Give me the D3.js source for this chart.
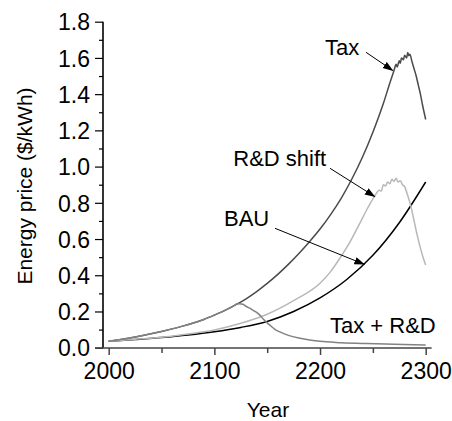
<!DOCTYPE html>
<html>
<head>
<meta charset="utf-8">
<script src="https://cdn.jsdelivr.net/npm/d3@7"></script>
<style>
  body { margin: 0; background: #fff; }
  svg { display: block; font-family: Arial, "Liberation Sans", sans-serif; }
</style>
</head>
<body>
<div class="container"></div>
<script>
// values: [year, price in $/kWh]
const taxSeries = [
  [2000, 0.035], [2010, 0.044], [2020, 0.054], [2030, 0.065], [2040, 0.077],
  [2050, 0.09], [2060, 0.104], [2070, 0.119], [2080, 0.136], [2090, 0.156],
  [2100, 0.18], [2110, 0.206], [2120, 0.236], [2130, 0.27], [2140, 0.31],
  [2150, 0.355], [2160, 0.405], [2170, 0.46], [2180, 0.52], [2190, 0.585],
  [2200, 0.655], [2210, 0.735], [2220, 0.825], [2230, 0.93], [2240, 1.05],
  [2250, 1.19], [2260, 1.35], [2266, 1.46], [2270, 1.53], [2272, 1.565],
  [2273, 1.55], [2275, 1.585], [2276, 1.57], [2277, 1.6], [2279, 1.59],
  [2280, 1.615], [2282, 1.6], [2283, 1.63], [2284, 1.612], [2285, 1.62],
  [2287, 1.58], [2289, 1.54], [2291, 1.5], [2293, 1.45], [2295, 1.4],
  [2297, 1.34], [2300, 1.26]
];
const bauSeries = [
  [2000, 0.035], [2025, 0.045], [2050, 0.056], [2075, 0.07], [2100, 0.088],
  [2125, 0.112], [2150, 0.145], [2175, 0.2], [2200, 0.275], [2225, 0.375],
  [2250, 0.51], [2275, 0.69], [2300, 0.915]
];
const rdShiftSeries = [
  [2000, 0.035], [2025, 0.046], [2050, 0.058], [2075, 0.076], [2100, 0.098],
  [2125, 0.135], [2150, 0.185], [2175, 0.26], [2200, 0.356], [2210, 0.42],
  [2220, 0.505], [2228, 0.58], [2237, 0.68], [2245, 0.77], [2252, 0.84],
  [2256, 0.87], [2258, 0.865], [2260, 0.9], [2262, 0.893], [2264, 0.915],
  [2266, 0.905], [2268, 0.93], [2270, 0.918], [2272, 0.935], [2274, 0.915],
  [2276, 0.922], [2278, 0.9], [2280, 0.89], [2283, 0.84], [2286, 0.78],
  [2289, 0.7], [2292, 0.62], [2295, 0.55], [2298, 0.49], [2300, 0.457]
];
const taxRdSeries = [
  [2000, 0.035], [2010, 0.044], [2020, 0.054], [2030, 0.065], [2040, 0.077],
  [2050, 0.09], [2060, 0.104], [2070, 0.119], [2080, 0.136], [2090, 0.156],
  [2100, 0.18], [2110, 0.206], [2118, 0.23], [2121, 0.241], [2124, 0.243],
  [2127, 0.24], [2130, 0.228], [2133, 0.22], [2137, 0.205], [2140, 0.195],
  [2143, 0.18], [2146, 0.16], [2150, 0.137], [2153, 0.122], [2157, 0.103],
  [2162, 0.087], [2170, 0.068], [2180, 0.053], [2190, 0.043], [2200, 0.035],
  [2220, 0.028], [2244, 0.023], [2270, 0.019], [2300, 0.015]
];

const yTicks = [0, 0.2, 0.4, 0.6, 0.8, 1.0, 1.2, 1.4, 1.6, 1.8];
const yMinorTicks = [0.1, 0.3, 0.5, 0.7, 0.9, 1.1, 1.3, 1.5, 1.7];
const xTicks = [2000, 2100, 2200, 2300];
const xMinorTicks = [2050, 2150, 2250];

// label text and where the arrow points (year, value)
const labels = [
  { text: "Tax", at: [2269, 1.53] },
  { text: "R&D shift", at: [2252, 0.834] },
  { text: "BAU", at: [2242, 0.46] },
  { text: "Tax + R&D", at: null }
];

const width = 452;
const height = 421;
const fontSize = 22;
const tickFontSize = 23;

const svg = d3.select(".container")
  .append("svg")
  .attr("width", width)
  .attr("height", height);

svg.append("rect").attr("width", width).attr("height", height).attr("fill", "#fff");

const xScale = d3.scaleLinear().domain([2000, 2300]).range([108.7, 425.7]);
const yScale = d3.scaleLinear().domain([0, 1.8]).range([347.7, 21.7]);

const axisX = 103;
const axisY = 348;

// arrow head
svg.append("defs")
  .append("marker")
  .attr("id", "arrow")
  .attr("markerUnits", "userSpaceOnUse")
  .attr("markerWidth", 11)
  .attr("markerHeight", 8)
  .attr("refX", 10)
  .attr("refY", 3.75)
  .attr("orient", "auto")
  .append("path")
  .attr("d", "M0,0 L10.5,3.75 L0,7.5 z")
  .attr("fill", "#000");

/* lines */
const line = d3.line()
  .curve(d3.curveMonotoneX)
  .x(d => xScale(d[0]))
  .y(d => yScale(d[1]));

const seriesList = [
  { data: taxSeries, color: "#4a4a4a" },
  { data: bauSeries, color: "#000" },
  { data: rdShiftSeries, color: "#b8b8b8" },
  { data: taxRdSeries, color: "#828282" }
];

svg.append("g")
  .selectAll("path")
  .data(seriesList)
  .join("path")
  .attr("d", d => line(d.data))
  .attr("fill", "none")
  .attr("stroke", d => d.color)
  .attr("stroke-width", 1.5)
  .attr("stroke-linejoin", "round");

/* Y axis */
const yAxis = svg.append("g")
  .attr("transform", `translate(${axisX},0)`)
  .call(d3.axisLeft(yScale).tickValues(yTicks).tickSize(8).tickPadding(5)
    .tickFormat(d3.format(".1f")));
yAxis.attr("font-family", null).attr("font-size", tickFontSize);
yAxis.select(".domain").remove();
yAxis.selectAll("text").attr("dy", "0.36em");
yAxis.selectAll("line").attr("stroke-width", 1.2);

const yMinor = svg.append("g")
  .attr("transform", `translate(${axisX},0)`)
  .call(d3.axisLeft(yScale).tickValues(yMinorTicks).tickSize(4).tickFormat(""));
yMinor.select(".domain").remove();
yMinor.selectAll("line").attr("stroke-width", 1.2);

/* X axis */
const xAxis = svg.append("g")
  .attr("transform", `translate(0,${axisY})`)
  .call(d3.axisBottom(xScale).tickValues(xTicks).tickSize(7).tickPadding(8)
    .tickFormat(d3.format("d")));
xAxis.attr("font-family", null).attr("font-size", tickFontSize);
xAxis.select(".domain").remove();
xAxis.selectAll("line").attr("stroke", "#444").attr("stroke-width", 1.5);

const xMinor = svg.append("g")
  .attr("transform", `translate(0,${axisY})`)
  .call(d3.axisBottom(xScale).tickValues(xMinorTicks).tickSize(5).tickFormat(""));
xMinor.select(".domain").remove();
xMinor.selectAll("line").attr("stroke", "#444").attr("stroke-width", 1.5);

// axis lines
svg.append("line")
  .attr("x1", axisX).attr("x2", axisX)
  .attr("y1", yScale(1.8)).attr("y2", axisY)
  .attr("stroke", "#000").attr("stroke-width", 1.6);
svg.append("line")
  .attr("x1", axisX - 8).attr("x2", xScale(2305.6))
  .attr("y1", axisY).attr("y2", axisY)
  .attr("stroke", "#444").attr("stroke-width", 1.6);

/* axis titles */
svg.append("text")
  .attr("x", 268)
  .attr("y", 417)
  .attr("text-anchor", "middle")
  .attr("font-size", fontSize - 1)
  .text("Year");

svg.append("text")
  .attr("transform", "translate(32,186) rotate(-90)")
  .attr("text-anchor", "middle")
  .attr("font-size", fontSize - 1)
  .text("Energy price ($/kWh)");

/* annotations */
const labelPos = [
  { x: 325, y: 55, from: [366, 52.3] },
  { x: 233.3, y: 166, from: [330, 168.3] },
  { x: 224, y: 226, from: [275, 228.3] },
  { x: 330, y: 333.3, from: null }
];

labels.forEach((l, i) => {
  const p = labelPos[i];
  svg.append("text")
    .attr("x", p.x)
    .attr("y", p.y)
    .attr("font-size", fontSize)
    .text(l.text);
  if (l.at) {
    svg.append("line")
      .attr("x1", p.from[0]).attr("y1", p.from[1])
      .attr("x2", xScale(l.at[0])).attr("y2", yScale(l.at[1]))
      .attr("stroke", "#000")
      .attr("stroke-width", 1)
      .attr("marker-end", "url(#arrow)");
  }
});
</script>
</body>
</html>
